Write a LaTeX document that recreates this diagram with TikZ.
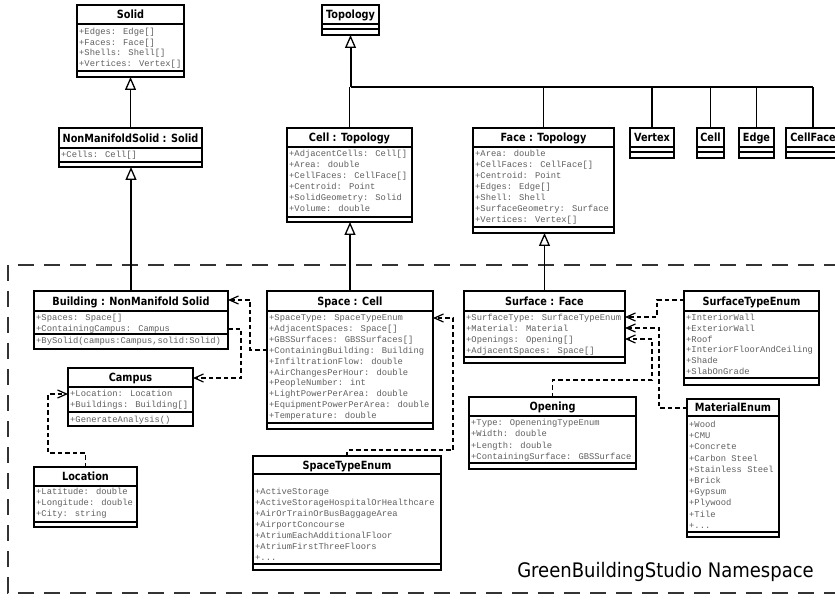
\documentclass[tikz,border=0pt]{standalone}
\usepackage{fontspec}
\usetikzlibrary{arrows.meta,calc}
\newfontfamily\ttlfont[FakeStretch=0.86]{DejaVu Sans}
\newfontfamily\nsfont[FakeStretch=0.9]{DejaVu Sans}
\newfontfamily\atrfont{Liberation Mono}
\definecolor{attrgray}{RGB}{95,95,95}
\newcommand\tdots{...}
\tikzset{
  umlbox/.style={draw=black, line width=1.2pt, fill=white, inner sep=0pt, outer sep=0pt},
  ttl/.style={font=\ttlfont\bfseries\fontsize{11.3}{12}\selectfont, inner sep=0pt, text height=9.4pt, text depth=1.1pt},
  atr/.style={font=\atrfont\fontsize{8.8}{10}\selectfont, text=attrgray, anchor=west, inner sep=0pt, text height=7pt, text depth=2pt},
  gen/.style={line width=1.3pt, -{Triangle[fill=white, line width=1.3pt, length=13pt, width=11pt]}},
  dep/.style={line width=1.2pt, dash pattern=on 4.5pt off 3pt, -{Straight Barb[length=9pt, width=8pt]}},
  plainline/.style={line width=1.3pt},
  nsbox/.style={line width=1.3pt, draw=black!80, dash pattern=on 16pt off 10pt},
}
% name, left, top, right, bottom, title divider, op divider, title
\newcommand\umlclass[8]{%
  \node[umlbox, anchor=north west, minimum width={(#4-#2)*1pt}, minimum height={(#5-#3)*1pt}] (#1) at (#2,#3) {};
  \draw[line width=1.2pt] (#2,#6) -- (#4,#6) (#2,#7) -- (#4,#7);
  \node[ttl] (#1-title) at ({(#2+#4)/2},{(#3+#6)/2}) {#8};
}
% x, first y, step, list
\newcommand\attrlines[4]{%
  \foreach \atxt [count=\ai from 0] in {#4} \node[atr] at (#1,{#2+\ai*#3}) {\atxt};
}
\begin{document}
\begin{tikzpicture}[x=1pt,y=-1pt]
\useasboundingbox (0,0) rectangle (835,601);
\clip (0,0) rectangle (835,601);
\fill[white] (0,0) rectangle (835,601);

% namespace frame
\draw[nsbox] (8,265) rectangle (850,593);
\node[font=\nsfont\fontsize{20}{24}\selectfont, anchor=base, inner sep=0pt] (ns) at (665.5,577) {GreenBuildingStudio Namespace};

% classes
\umlclass{solid}{77}{5}{184}{77}{24}{71}{Solid}
\attrlines{79}{32}{10.7}{+Edges: Edge[],+Faces: Face[],+Shells: Shell[],+Vertices: Vertex[]}
\umlclass{nms}{59}{128}{202}{167}{148}{162}{NonManifoldSolid : Solid}
\attrlines{61}{155}{11}{+Cells: Cell[]}
\umlclass{topo}{322}{5}{379}{35}{24}{29}{Topology}
\umlclass{cellT}{287}{128}{412}{222}{147}{217}{Cell : Topology}
\attrlines{289}{154}{11}{+AdjacentCells: Cell[],+Area: double,+CellFaces: CellFace[],+Centroid: Point,+SolidGeometry: Solid,+Volume: double}
\umlclass{faceT}{473}{128}{614}{233}{147}{227}{Face : Topology}
\attrlines{475}{154}{11}{+Area: double,+CellFaces: CellFace[],+Centroid: Point,+Edges: Edge[],+Shell: Shell,+SurfaceGeometry: Surface,+Vertices: Vertex[]}
\umlclass{vertex}{630}{128}{674}{158}{147}{152}{Vertex}
\umlclass{cell}{697}{128}{724}{158}{147}{152}{Cell}
\umlclass{edge}{739}{128}{774}{158}{147}{152}{Edge}
\umlclass{cellface}{786}{128}{840}{158}{147}{152}{CellFace}

\umlclass{building}{34}{291}{228}{349}{311}{334}{Building : NonManifold Solid}
\attrlines{36}{318}{11}{+Spaces: Space[],+ContainingCampus: Campus}
\attrlines{36}{341}{11}{{+BySolid(campus:Campus,solid:Solid)}}
\umlclass{campus}{68}{368}{193}{426}{387}{412}{Campus}
\attrlines{70}{394}{11}{+Location: Location,+Buildings: Building[]}
\attrlines{70}{420}{11}{+GenerateAnalysis()}
\umlclass{location}{34}{467}{137}{527}{486}{522}{Location}
\attrlines{36}{492}{11}{+Latitude: double,+Longitude: double,+City: string}
\umlclass{space}{267}{291}{433}{429}{311}{423}{Space : Cell}
\attrlines{269}{318}{10.9}{+SpaceType: SpaceTypeEnum,+AdjacentSpaces: Space[],+GBSSurfaces: GBSSurfaces[],+ContainingBuilding: Building,+InfiltrationFlow: double,+AirChangesPerHour: double,+PeopleNumber: int,+LightPowerPerArea: double,+EquipmentPowerPerArea: double,+Temperature: double}
\umlclass{surface}{464}{291}{625}{363}{311}{357}{Surface : Face}
\attrlines{466}{318}{11}{+SurfaceType: SurfaceTypeEnum,+Material: Material,+Openings: Opening[],+AdjacentSpaces: Space[]}
\umlclass{opening}{469}{397}{636}{469}{416}{463}{Opening}
\attrlines{471}{423}{11.3}{+Type: OpeneningTypeEnum,+Width: double,+Length: double,+ContainingSurface: GBSSurface}
\umlclass{ste}{684}{291}{819}{385}{311}{378}{SurfaceTypeEnum}
\attrlines{686}{318}{10.8}{+InteriorWall,+ExteriorWall,+Roof,+InteriorFloorAndCeiling,+Shade,+SlabOnGrade}
\umlclass{mat}{687}{399}{779}{537}{416}{532}{MaterialEnum}
\attrlines{689}{425}{11.2}{+Wood,+CMU,+Concrete,+Carbon Steel,+Stainless Steel,+Brick,+Gypsum,+Plywood,+Tile,+\tdots}
\umlclass{stenum}{253}{456}{441}{570}{474}{564}{SpaceTypeEnum}
\attrlines{255}{492}{11}{+ActiveStorage,+ActiveStorageHospitalOrHealthcare,+AirOrTrainOrBusBaggageArea,+AirportConcourse,+AtriumEachAdditionalFloor,+AtriumFirstThreeFloors,+\tdots}

% generalizations
\draw[gen] (nms.north) -- (nms.north |- solid.south);
\draw[gen] (building.north) -- (building.north |- nms.south);
\draw[gen] (space.north) -- (space.north |- cellT.south);
\draw[gen] (surface.north) -- (surface.north |- faceT.south);
\coordinate (bus) at (350.5,87);
\foreach \nn in {cellT,faceT,vertex,cell,edge,cellface}
  \draw[plainline] (\nn.north) -- (\nn.north |- bus);
\draw[line width=2pt] (bus) -- (cellface.north |- bus);
\draw[gen, line width=2pt] (bus) -- (topo.south);

% dependencies
\draw[dep] (space.west |- 0,350) -- (250,350) |- (building.east |- 0,300);
\draw[dep] (building.east |- 0,329) -| (241,378) -- (campus.east |- 0,378);
\draw[dep] (location.north) |- (48,453) |- (campus.west |- 0,394);
\draw[dep] (stenum.north) |- (453,450) |- (space.east |- 0,318);
\draw[dep] (ste.west |- 0,300) -| (657,317) -- (surface.east |- 0,317);
\draw[dep] (mat.west |- 0,408) -| (659,328) -- (surface.east |- 0,328);
\draw[dep] (opening.north) |- (652,380) |- (surface.east |- 0,339);
\end{tikzpicture}
\end{document}
